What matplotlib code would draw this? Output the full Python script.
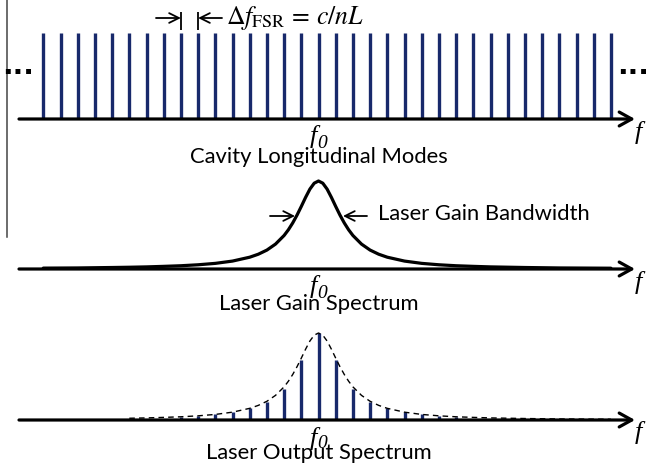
import matplotlib.pyplot as plt
from matplotlib.patches import FancyArrowPatch

plt.rcParams['mathtext.fontset'] = 'stix'

# cavity modes, in units of the free spectral range from f0
mode_k = list(range(-16, 18))

# gain profile (offset in FSR, relative height)
gain_k = [-16, -14, -12, -11, -10, -9, -8, -7, -6, -5, -4, -3.5, -3, -2.5, -2,
          -1.75, -1.5, -1.25, -1, -0.75, -0.5, -0.25, 0, 0.25, 0.5, 0.75, 1,
          1.25, 1.5, 1.75, 2, 2.5, 3, 3.5, 4, 5, 6, 7, 8, 9, 10, 12, 14, 16, 17]
gain_val = [0.010, 0.012, 0.017, 0.020, 0.024, 0.030, 0.037, 0.048, 0.064,
            0.090, 0.134, 0.168, 0.215, 0.283, 0.381, 0.446, 0.523, 0.612,
            0.711, 0.814, 0.908, 0.975, 1.0, 0.975, 0.908, 0.814, 0.711, 0.612,
            0.523, 0.446, 0.381, 0.283, 0.215, 0.168, 0.134, 0.090, 0.064,
            0.048, 0.037, 0.030, 0.024, 0.017, 0.012, 0.010, 0.009]

# lasing modes in the bottom panel
out_k = list(range(-8, 9))
out_val = [0.037, 0.048, 0.064, 0.09, 0.14, 0.21, 0.36, 0.69, 1.0,
           0.69, 0.36, 0.21, 0.14, 0.09, 0.064, 0.048, 0.037]

titles = ['Cavity Longitudinal Modes', 'Laser Gain Spectrum',
          'Laser Output Spectrum']

# layout in pixels
X0, DX = 318.5, 17.2
W, H = 648, 468
top_base, top_h = 119, 86
mid_base, mid_h = 269, 88
bot_base, bot_h = 420, 87
title_off = [38, 35, 33]
axis_start, axis_end = (19 - X0) / DX, (635 - X0) / DX


def px(x):
    return (x - X0) / DX


navy = '#18296b'
sans = 'Lato'
serif = 'Liberation Serif'

fig = plt.figure(figsize=(6.48, 4.68), dpi=100)
ax = fig.add_axes([0, 0, 1, 1])
ax.set_xlim(px(0), px(W))
ax.set_ylim(H, 0)
ax.axis('off')

# thin vertical line on the left edge
ax.plot([px(7), px(7)], [0, 237], color='#444444', lw=1.1)

# top: cavity longitudinal modes
ax.vlines(mode_k, top_base, top_base - top_h, color=navy, lw=2.4)

# middle: gain curve
ax.plot(gain_k, [mid_base - mid_h * g for g in gain_val], color='black',
        lw=2.3, solid_joinstyle='round', solid_capstyle='round', zorder=4)

# bottom: output modes with dashed gain envelope
ax.vlines(out_k, bot_base, [bot_base - bot_h * v for v in out_val],
          color=navy, lw=2.4)
env_k = [k for k in gain_k if k >= -11]
env_v = [g for k, g in zip(gain_k, gain_val) if k >= -11]
ax.plot(env_k, [bot_base - bot_h * g for g in env_v], color='black',
        lw=1.0, ls=(0, (4, 3)))

for base, title, off in zip([top_base, mid_base, bot_base], titles, title_off):
    ax.add_patch(FancyArrowPatch((axis_start, base), (axis_end, base),
                                 arrowstyle='->,head_length=0.45,head_width=0.25',
                                 mutation_scale=20, lw=2.3, color='black',
                                 shrinkA=0, shrinkB=0, zorder=5))
    ax.text(px(638), base + 13, 'f', fontsize=19, family=serif,
            style='italic', ha='center', va='center')
    # f0 label: italic f with italic subscript 0
    ax.text(px(313), base + 18, 'f', fontsize=19, family=serif,
            style='italic', ha='center', va='center')
    ax.text(px(322), base + 24, '0', fontsize=14, family=serif,
            style='italic', ha='center', va='center')
    ax.text(0, base + off, title, fontsize=15.8, family=sans, ha='center',
            va='center')

# dots at both ends of the mode comb
ax.text(px(18), 66, '...', fontsize=20, fontweight='bold', ha='center',
        va='center')
ax.text(px(633), 66, '...', fontsize=20, fontweight='bold', ha='center',
        va='center')

# free spectral range marker
ax.vlines([-8, -7], 12, 30, color='black', lw=1.3)
thin = dict(arrowstyle='->,head_length=0.5,head_width=0.25', mutation_scale=14,
            lw=1.3, color='black', shrinkA=0, shrinkB=0)
ax.add_patch(FancyArrowPatch((px(156), 18), (-8, 18), **thin))
ax.add_patch(FancyArrowPatch((px(222), 18), (-7, 18), **thin))
ax.text(px(226), 18, r'$\Delta f_{\mathrm{FSR}}\,=\,c/nL$', fontsize=18.5,
        ha='left', va='center')

# gain bandwidth marker
ax.add_patch(FancyArrowPatch((px(270), 216), (px(295), 216), **thin))
ax.add_patch(FancyArrowPatch((px(367), 216), (px(343), 216), **thin))
ax.text(px(378), 214, 'Laser Gain Bandwidth', fontsize=15.8, family=sans,
        ha='left', va='center')

fig.savefig('out.png', dpi=100)
